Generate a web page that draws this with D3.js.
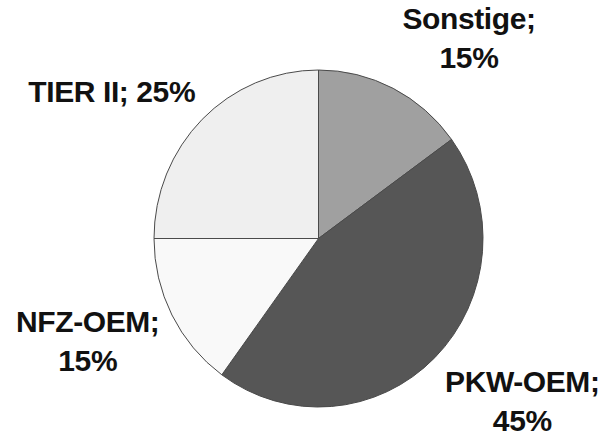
<!DOCTYPE html>
<html>
<head>
<meta charset="utf-8">
<script src="https://cdn.jsdelivr.net/npm/d3@7"></script>
<style>
  html, body { margin: 0; padding: 0; background: #fff; }
</style>
</head>
<body>
<script>
// data, clockwise from 12 o'clock
var categories = ["Sonstige", "PKW-OEM", "NFZ-OEM", "TIER II"];
var shares = [15, 45, 15, 25];
var fills = ["#a0a0a0", "#565656", "#f9f9f9", "#efefef"];
// label line breaks (true = value goes on a second line)
var twoLines = [true, true, true, false];

var width = 602, height = 438;
var cx = 318.5, cy = 238.5;
var ry = 168.5, rx = 164.5;

// nudges from the slice centroid at labelR to the first baseline, in px
var labelR = 250;
var nudge = [[37, 13], [27, -23], [-8, -20], [-30, 40]];

var svg = d3.select("body").append("svg")
    .attr("width", width)
    .attr("height", height);

var pie = d3.pie().sort(null).value(d => d.value);
var rows = categories.map((c, i) => ({name: c, value: shares[i], fill: fills[i], two: twoLines[i], i: i}));
var arcs = pie(rows);

var arc = d3.arc().innerRadius(0).outerRadius(ry);
var labelArc = d3.arc().innerRadius(labelR).outerRadius(labelR);

var g = svg.append("g")
    .attr("transform", `translate(${cx},${cy}) scale(${rx / ry},1)`);

g.selectAll("path")
  .data(arcs)
  .join("path")
    .attr("d", arc)
    .attr("fill", d => d.data.fill)
    .attr("stroke", "#4a4a4a")
    .attr("stroke-width", 1)
    .attr("vector-effect", "non-scaling-stroke");

var labels = svg.append("g")
    .attr("transform", `translate(${cx},${cy})`)
    .attr("font-family", "'Liberation Sans', Arial, sans-serif")
    .attr("font-weight", "bold")
    .attr("font-size", 30)
    .attr("letter-spacing", -0.4)
    .attr("fill", "#111")
    .attr("text-anchor", "middle");

labels.selectAll("text")
  .data(arcs)
  .join("text")
    .attr("transform", d => {
      var c = labelArc.centroid(d);
      var n = nudge[d.data.i];
      return `translate(${c[0] + n[0]},${c[1] + n[1]})`;
    })
    .each(function(d) {
      var t = d3.select(this);
      if (d.data.two) {
        t.append("tspan").attr("x", 0).attr("y", 0).text(d.data.name + ";");
        t.append("tspan").attr("x", 0).attr("dy", "1.3em").text(d.data.value + "%");
      } else {
        t.append("tspan").attr("x", 0).attr("y", 0).text(d.data.name + "; " + d.data.value + "%");
      }
    });
</script>
</body>
</html>
